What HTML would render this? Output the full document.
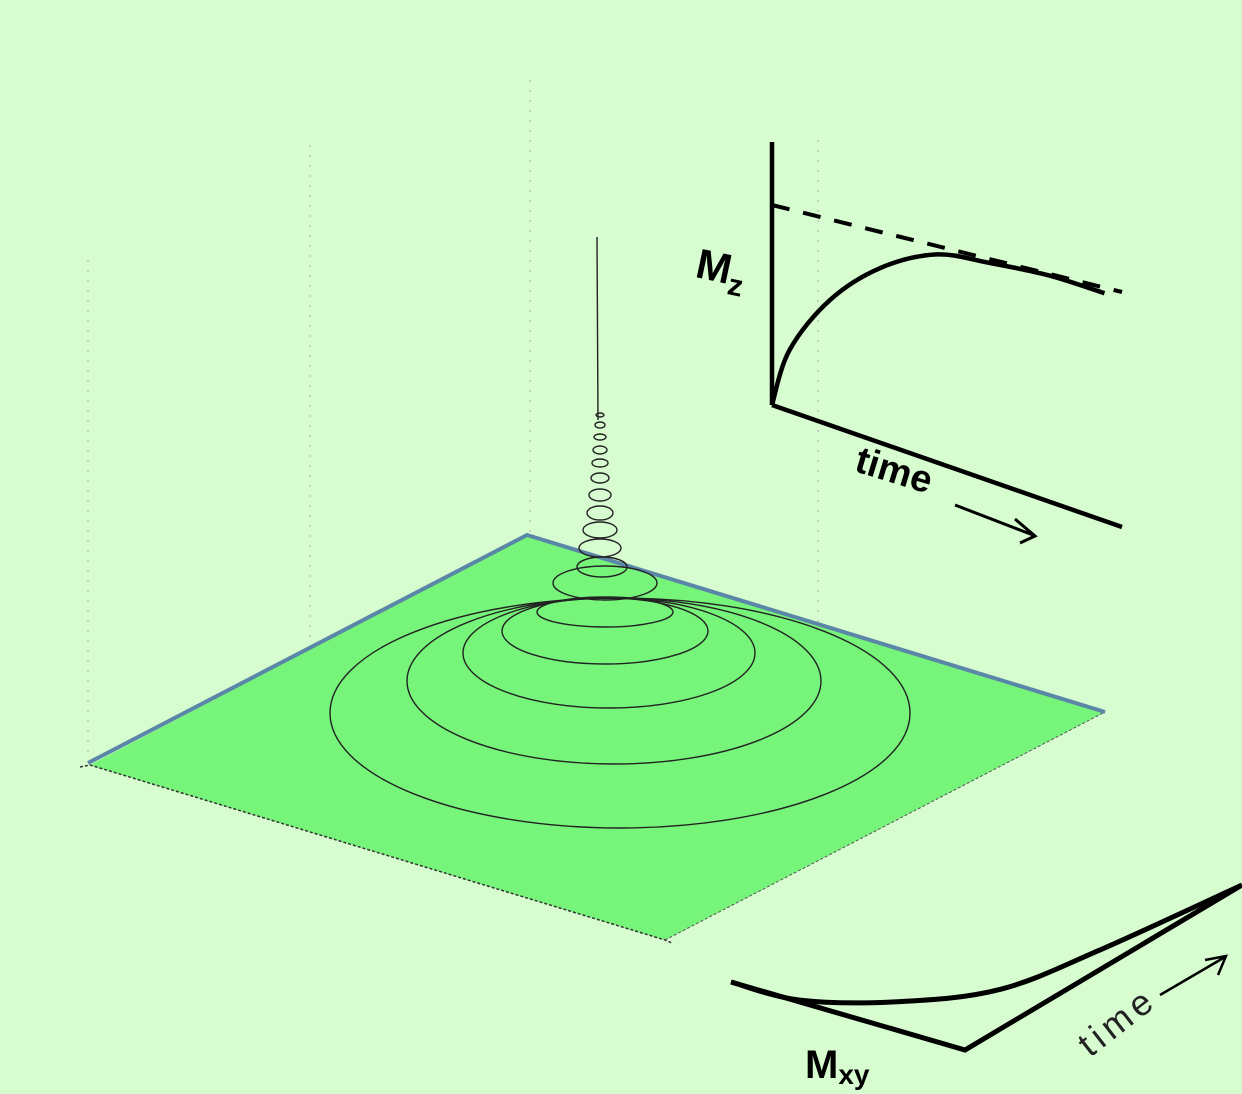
<!DOCTYPE html>
<html><head><meta charset="utf-8"><style>
html,body{margin:0;padding:0;background:#d6fcd0;}
svg{display:block;font-family:"Liberation Sans",sans-serif;}
</style></head><body>
<svg id="fig" width="1242" height="1094" viewBox="0 0 1242 1094">
<rect width="1242" height="1094" fill="#d6fcd0"/>
<g stroke="#b8c8b4" stroke-width="1.5" stroke-dasharray="2 8">
<line x1="530" y1="80" x2="530" y2="535"/>
<line x1="310" y1="145" x2="310" y2="640"/>
<line x1="88" y1="260" x2="88" y2="760"/>
<line x1="818" y1="140" x2="818" y2="640"/>
</g>
<polygon points="90,765 527,535 1105,712 665,940" fill="#76f57a"/>
<polyline points="80,767 90,765 665,940 672,943" fill="none" stroke="#333" stroke-width="1.5" stroke-dasharray="3 2"/>
<polyline points="665,940 1105,712" fill="none" stroke="#555" stroke-width="1" stroke-dasharray="3 2"/>
<polyline points="88,763 527,535 1105,712" fill="none" stroke="#5a86a8" stroke-width="4"/>
<g id="spiral" fill="none" stroke="#222" stroke-width="1.4"></g>
<line x1="597" y1="237" x2="598" y2="420" stroke="#222" stroke-width="1.4"/>

<g fill="none" stroke="#000" stroke-width="4.5">
<line x1="772" y1="142" x2="772" y2="405"/>
<line x1="772" y1="405" x2="1122" y2="527"/>
<line x1="772" y1="205" x2="1122" y2="292" stroke-dasharray="18 14" stroke-width="4"/>
<path id="mzcurve"/>
<path d="M955,505 L1033,535 M1015,519 L1035,536 L1020,543" stroke-width="3"/>
</g>
<text x="696" y="282" font-size="42" font-weight="bold" transform="rotate(12 720 270)">M<tspan font-size="30" dy="10">z</tspan></text>
<text x="852" y="482" font-size="38" font-weight="bold" transform="rotate(17 890 480)">time</text>

<g fill="none" stroke="#000" stroke-width="5">
<polyline points="731,982 965,1050 1242,885"/>
<path id="mxycurve"/>
<path d="M1160,995 L1225,957 M1205,960 L1226,956 L1218,975" stroke-width="2.5"/>
</g>
<text x="805" y="1078" font-size="40" font-weight="bold">M<tspan font-size="28" dy="6">xy</tspan></text>
<text x="1090" y="1058" font-size="36" letter-spacing="5" fill="#222" transform="rotate(-38 1090 1058)">time</text>
</svg>
<script>
const loopCx=[620,614,609,605,605,605,602,600,600,600,600,600,600,600,600,600,600];
const loopCy=[713,681,653,631,612,583,567,548,530,513,495,478,463,450,437,425,415];
const loopRx=[290,207,146,103,68,52,25,21,17,13,11,9,8,7,6,5,4];
const loopRy=[115,83,55,33,15,17,10,9,8,7,6,5,4,4,3,3,2];
const mzT=[0,0.05,0.166,0.31,0.47,0.62,0.79,0.95];
const mzV=[0,0.185,0.38,0.53,0.63,0.66,0.685,0.69];
const mxyT=[0,0.008,0.12,0.29,0.57,1];
const mxyV=[1,0.715,0.42,0.19,0.094,0];
const ns='http://www.w3.org/2000/svg';
const g=document.getElementById('spiral');
for(let i=0;i<loopCx.length;i++){
 const e=document.createElementNS(ns,'ellipse');
 e.setAttribute('cx',loopCx[i]);e.setAttribute('cy',loopCy[i]);
 e.setAttribute('rx',loopRx[i]);e.setAttribute('ry',loopRy[i]);
 
 
 g.appendChild(e);
}
function smooth(p){
 let d='M'+p[0][0].toFixed(1)+','+p[0][1].toFixed(1);
 for(let i=0;i<p.length-1;i++){
  const p0=p[Math.max(0,i-1)],p1=p[i],p2=p[i+1],p3=p[Math.min(p.length-1,i+2)];
  const c1=[p1[0]+(p2[0]-p0[0])/6,p1[1]+(p2[1]-p0[1])/6];
  const c2=[p2[0]-(p3[0]-p1[0])/6,p2[1]-(p3[1]-p1[1])/6];
  d+=' C'+c1.map(v=>v.toFixed(1)).join(',')+' '+c2.map(v=>v.toFixed(1)).join(',')+' '+p2[0].toFixed(1)+','+p2[1].toFixed(1);
 }
 return d;
}
function mzX(t){return 772+t*350;}
function mzY(t,v){return 405+t*122-v*330;}
document.getElementById('mzcurve').setAttribute('d',smooth(mzT.map((t,i)=>[mzX(t),mzY(t,mzV[i])])));
function mxX(t,v){return 965+t*277-v*234;}
function mxY(t,v){return 1050-t*165-v*68;}
document.getElementById('mxycurve').setAttribute('d',smooth(mxyT.map((t,i)=>[mxX(t,mxyV[i]),mxY(t,mxyV[i])])));
</script>
</body></html>
